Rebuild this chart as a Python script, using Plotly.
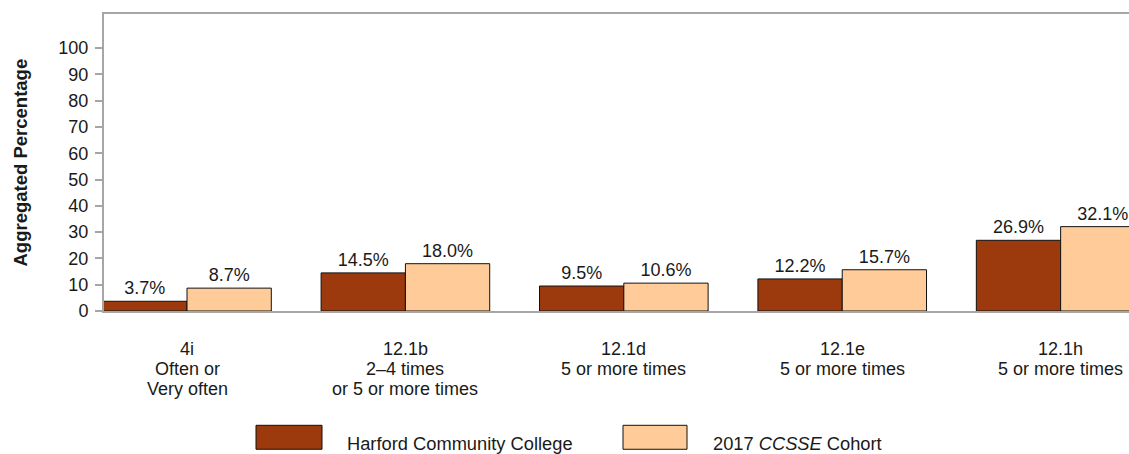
import plotly.graph_objects as go

# ---- data ----
categories = ["4i", "12.1b", "12.1d", "12.1e", "12.1h"]
category_labels = [
    ["4i", "Often or", "Very often"],
    ["12.1b", "2\u20134 times", "or 5 or more times"],
    ["12.1d", "5 or more times"],
    ["12.1e", "5 or more times"],
    ["12.1h", "5 or more times"],
]
harford = [3.7, 14.5, 9.5, 12.2, 26.9]
cohort = [8.7, 18.0, 10.6, 15.7, 32.1]
series_names = ["Harford Community College", "2017 <i>CCSSE</i> Cohort"]
y_ticks = [0, 10, 20, 30, 40, 50, 60, 70, 80, 90, 100]

# ---- style ----
W, H = 1129, 454
PL, PR, PT, PB = 104, 1129, 14, 311.5
FONT = "Liberation Sans, Arial, sans-serif"
C_H = "#9C3A0E"
C_C = "#FFCC99"
GRID = "#A6A6A6"


def px_x(px):
    return (px - PL) / (PR - PL)


def px_y(py):
    return (PB - py) / (PB - PT)


fig = go.Figure()
fig.add_trace(go.Bar(
    x=list(range(len(categories))), y=harford, name=series_names[0],
    marker=dict(color=C_H, line=dict(color="#111111", width=1)),
    text=[f"{v:.1f}%" for v in harford], textposition="outside",
    textfont=dict(size=18, color="#1a1a1a", family=FONT),
    showlegend=False,
))
fig.add_trace(go.Bar(
    x=list(range(len(categories))), y=cohort, name=series_names[1],
    marker=dict(color=C_C, line=dict(color="#111111", width=1)),
    text=[f"{v:.1f}%" for v in cohort], textposition="outside",
    textfont=dict(size=18, color="#1a1a1a", family=FONT),
    showlegend=False,
))

annotations = []
# category labels (one annotation per line for tight line spacing)
for i, lines in enumerate(category_labels):
    for j, line in enumerate(lines):
        annotations.append(dict(
            x=i, xref="x", y=px_y(350 + 20 * j), yref="paper",
            text=line, showarrow=False, xanchor="center", yanchor="middle",
            font=dict(size=18, color="#1a1a1a", family=FONT),
        ))

# y-axis title
annotations.append(dict(
    x=px_x(20), xref="paper", y=0.5, yref="paper",
    text="<b>Aggregated Percentage</b>", textangle=-90, showarrow=False,
    xanchor="center", yanchor="middle",
    font=dict(size=18.5, color="#1a1a1a", family=FONT),
))

# custom legend
shapes = []
legend_items = [(256, 322, 345, C_H, series_names[0]),
                (623, 687, 711, C_C, series_names[1])]
for x0, x1, tx, col, name in legend_items:
    shapes.append(dict(type="rect", xref="paper", yref="paper",
                       x0=px_x(x0), x1=px_x(x1), y0=px_y(450), y1=px_y(426),
                       fillcolor=col, line=dict(color="#111111", width=1)))
    annotations.append(dict(
        x=px_x(tx), xref="paper", y=px_y(444), yref="paper",
        text=name, showarrow=False, xanchor="left", yanchor="middle",
        font=dict(size=18.3, color="#1a1a1a", family=FONT),
    ))

fig.update_layout(
    width=W, height=H,
    margin=dict(l=PL, r=W - PR, t=PT, b=H - PB, autoexpand=False),
    paper_bgcolor="white", plot_bgcolor="white",
    barmode="group", bargap=0.228, bargroupgap=0,
    font=dict(family=FONT, size=18, color="#1a1a1a"),
    annotations=annotations, shapes=shapes,
)
fig.update_xaxes(
    range=[-0.38, 4.313], showticklabels=False, ticks="",
    showline=True, linecolor=GRID, linewidth=2, mirror=True,
    showgrid=False, zeroline=False,
)
fig.update_yaxes(
    range=[0, 113], tickvals=y_ticks, ticks="outside", ticklen=7,
    tickcolor=GRID, tickwidth=1.5,
    showline=True, linecolor=GRID, linewidth=2, mirror=False,
    showgrid=False, zeroline=False,
    tickfont=dict(size=18, color="#1a1a1a", family=FONT),
    ticklabelstandoff=3,
)

fig.write_html(
    "out.html",
    config={"displayModeBar": False},
    post_script="document.body.style.margin='0';document.body.style.overflow='hidden';",
)
